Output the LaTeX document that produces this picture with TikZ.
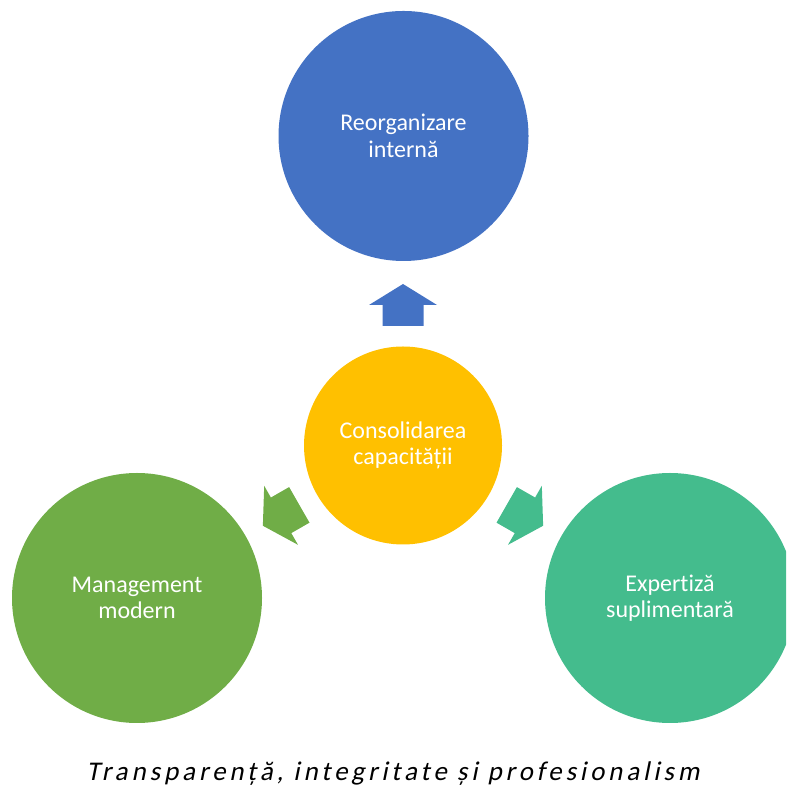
\documentclass[tikz,border=0pt]{standalone}
\usepackage{fontspec}
\setmainfont[RawFeature={-liga;-clig;-calt;-dlig}]{Carlito}
\newfontfamily\capfont[FakeSlant=0.2, LetterSpace=14.5, RawFeature={-liga;-clig;-calt;-dlig}]{Carlito}
\definecolor{cblue}{HTML}{4472C4}
\definecolor{cyellow}{HTML}{FFC000}
\definecolor{cgreen}{HTML}{70AD47}
\definecolor{cteal}{HTML}{44BC8D}
\tikzset{
  bigcirc/.style={circle, minimum size=250pt, inner sep=0pt, text=white, align=center,
    font=\fontsize{24}{26.5}\selectfont},
  midcirc/.style={circle, minimum size=198pt, inner sep=0pt, text=white, align=center,
    font=\fontsize{24}{26.5}\selectfont}
}
\begin{document}
\begin{tikzpicture}[x=1pt,y=1pt]
\useasboundingbox (0,0) rectangle (786,791);
\begin{scope}
\clip (0,0) rectangle (786,791);
\node[bigcirc, fill=cblue] (top) at (403.5,655) {Reorganizare\\internă};
\node[midcirc, fill=cyellow] (mid) at (403,345.5) {Consolidarea\\capacității};
\node[bigcirc, fill=cgreen] (left) at (137,193) {Management\\modern};
\node[bigcirc, fill=cteal] (right) at (670,193) {Expertiză\\suplimentară};
\foreach \ang/\col in {90/cblue, 209.8/cgreen, 330.2/cteal}{
  \begin{scope}[shift={(mid.center)}, rotate=\ang]
    \fill[\col] (119.5,-20.5) -- (140.5,-20.5) -- (140.5,-34) -- (161.5,0)
      -- (140.5,34) -- (140.5,20.5) -- (119.5,20.5) -- cycle;
  \end{scope}
}
\end{scope}
\node[anchor=base, inner sep=0pt, font=\capfont\fontsize{27}{30}\selectfont, text=black] (caption) at (393,10) {Transparență, integritate și profesionalism};
\end{tikzpicture}
\end{document}
